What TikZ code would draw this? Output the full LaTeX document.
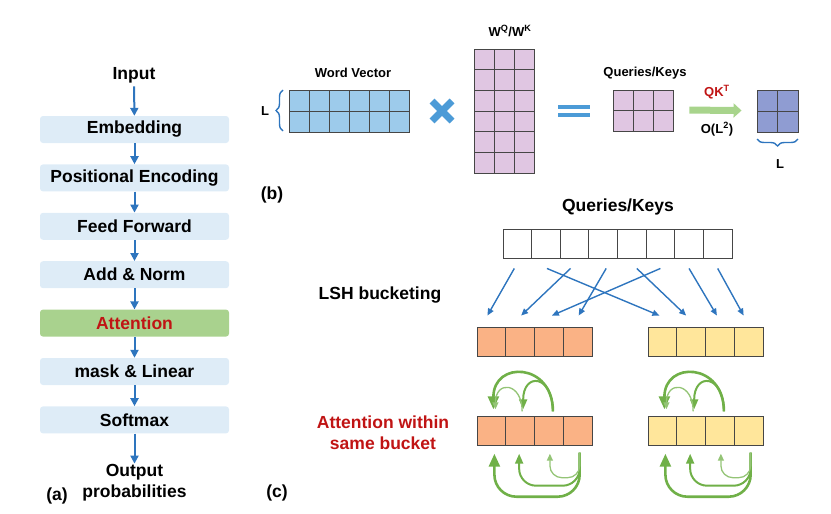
\documentclass[tikz,border=0pt]{standalone}
\usepackage{fontspec}
\setmainfont{Liberation Sans}
\usetikzlibrary{arrows.meta}
\usetikzlibrary{positioning}
\usetikzlibrary{decorations.pathreplacing}
\definecolor{flowblue}{RGB}{46,117,190}
\definecolor{boxblue}{RGB}{222,236,247}
\definecolor{attgreen}{RGB}{169,210,142}
\definecolor{hotred}{RGB}{192,20,20}
\definecolor{wordblue}{RGB}{157,203,235}
\definecolor{wpurple}{RGB}{224,198,226}
\definecolor{respurple}{RGB}{143,156,210}
\definecolor{opblue}{RGB}{76,155,215}
\definecolor{lightgreen}{RGB}{168,212,140}
\definecolor{bucketorange}{RGB}{250,178,133}
\definecolor{bucketyellow}{RGB}{255,230,155}
\definecolor{arcgreen}{RGB}{112,176,72}
\definecolor{gridgray}{RGB}{70,70,70}
\def\mainlbl{\fontsize{17.5}{21}\selectfont\bfseries}
\def\matlbl{\fontsize{13}{16}\selectfont\bfseries}

\begin{document}
\begin{tikzpicture}[x=1pt,y=-1pt,>={Triangle[length=8pt,width=8pt]},
  layer box/.style={rectangle,rounded corners=3pt,fill=boxblue,minimum width=189pt,
    minimum height=27pt,inner sep=0pt,font=\mainlbl},
  flow/.style={->,flowblue,line width=2pt},
  cell/.style={rectangle,draw=gridgray,line width=0.9pt,inner sep=0pt},
  lsh/.style={-{Triangle[length=7pt,width=6pt]},flowblue,line width=1.4pt},
  span brace/.style={flowblue,line width=1.4pt,decorate,decoration={brace,amplitude=7pt}},
  big arc/.style={-{Triangle[length=13pt,width=11pt]},arcgreen,line width=2.6pt},
  mid arc/.style={-{Triangle[length=10pt,width=8pt]},arcgreen,line width=2pt},
  thin arc/.style={-{Triangle[length=7pt,width=6pt]},arcgreen!75,line width=1.3pt}]

\useasboundingbox (0,0) rectangle (831,514);

% (a) the layer stack
\node[font=\mainlbl] (input) at (134,75) {Input};
\node[layer box] (embed) at (134.5,129.5) {Embedding};
\node[layer box,below=21pt of embed] (posenc) {Positional Encoding};
\node[layer box,below=21pt of posenc] (ffwd) {Feed Forward};
\node[layer box,below=21pt of ffwd] (addnorm) {Add \& Norm};
\node[layer box,below=21pt of addnorm,fill=attgreen,text=hotred] (attn) {Attention};
\node[layer box,below=21pt of attn] (masklin) {mask \& Linear};
\node[layer box,below=21pt of masklin] (softmax) {Softmax};
\node[font=\mainlbl,align=center,inner sep=0pt,below=30pt of softmax] (output) {Output\\probabilities};

\draw[flow] (input) -- (embed);
\foreach \a/\c in {embed/posenc,posenc/ffwd,ffwd/addnorm,addnorm/attn,attn/masklin,masklin/softmax}
  \draw[flow] (\a) -- (\c);
\draw[flow] (softmax) -- (output);

\node[font=\mainlbl] (lbla) at (57,496) {(a)};
\node[font=\mainlbl] (lblb) at (272,195) {(b)};
\node[font=\mainlbl] (lblc) at (277,493) {(c)};

% (b) projection and QK^T
\node[font=\matlbl] (wvlabel) at (353,73) {Word Vector};
\foreach \r in {0,1}
  \foreach \c in {0,...,5}
    \node[cell,fill=wordblue,minimum width=20pt,minimum height=21pt] (wv\r\c) at (299+20*\c,100.5+21*\r) {};
\draw[span brace] (283,131) -- (283,90);
\node[font=\matlbl] (wvL) at (265,111) {L};

\draw[opblue,line width=7pt] (432,101) -- (452,121) (432,121) -- (452,101);

\node[font=\matlbl] (wlabel) at (510,31) {W\textsuperscript{Q}/W\textsuperscript{K}};
\foreach \r in {0,...,5}
  \foreach \c in {0,1,2}
    \node[cell,fill=wpurple,minimum width=20pt,minimum height=20.7pt] (w\r\c) at (484+20*\c,59.35+20.7*\r) {};

\draw[opblue,line width=4pt] (558,107) -- (590,107) (558,115) -- (590,115);

\node[font=\matlbl] (qklabel) at (645,73) {Queries/Keys};
\foreach \r in {0,1}
  \foreach \c in {0,1,2}
    \node[cell,fill=wpurple,minimum width=20pt,minimum height=20.5pt] (qk\r\c) at (623+20*\c,100.25+20.5*\r) {};

\foreach \r in {0,1}
  \foreach \c in {0,1}
    \node[cell,fill=respurple,minimum width=20.5pt,minimum height=21pt] (res\r\c) at (767.25+20.5*\c,100.5+21*\r) {};

\draw[-{Triangle[length=8pt,width=14pt]},lightgreen,line width=7pt]
  ([xshift=16pt]qk12.north east) -- ([xshift=-15pt]res10.north west);
\node[font=\matlbl,text=hotred] (qkt) at (717,92) {QK\textsuperscript{T}};
\node[font=\matlbl] (cost) at (717,129) {O(L\textsuperscript{2})};

\draw[span brace] (798,139) -- (757,139);
\node[font=\matlbl] (resL) at (780,164) {L};

% (c) LSH bucketing
\node[font=\mainlbl] (qkrow) at (618,207) {Queries/Keys};
\foreach \k in {0,...,7}
  \node[cell,fill=white,minimum width=28.625pt,minimum height=29pt] (t\k) at (517.3+28.625*\k,243.5) {};
\node[font=\mainlbl] (lshlabel) at (380,295) {LSH bucketing};

\foreach \k in {0,...,3} {
  \node[cell,fill=bucketorange,minimum width=28.75pt,minimum height=29pt] (ob\k) at (491.4+28.75*\k,341.5) {};
  \node[cell,fill=bucketyellow,minimum width=28.75pt,minimum height=29pt] (yb\k) at (662.4+28.75*\k,341.5) {};
  \node[cell,fill=bucketorange,minimum width=28.75pt,minimum height=28.5pt] (oa\k) at (491.4+28.75*\k,431) {};
  \node[cell,fill=bucketyellow,minimum width=28.75pt,minimum height=28.5pt] (ya\k) at (662.4+28.75*\k,431) {};
}

\foreach \s/\sx/\e/\ex in {t0/-3/ob0/-4,t2/-4/ob1/1,t1/1/yb0/-3,t3/3/ob3/1,
                           t4/5/yb1/-5,t5/0/ob2/3,t6/0/yb2/-3,t7/0/yb3/-5}
  \draw[lsh] ([xshift=\sx pt,yshift=-10pt]\s.south) -- ([xshift=\ex pt,yshift=11pt]\e.north);

\node[font=\mainlbl,text=hotred,align=center] (attlabel) at (383,433) {Attention within\\same bucket};

\foreach \bk in {oa,ya} {
  \draw[big arc] ([xshift=4pt,yshift=5pt]\bk2.north) to[out=90,in=90,looseness=2.1] ([xshift=2pt,yshift=7pt]\bk0.north);
  \draw[mid arc] ([xshift=4pt,yshift=5pt]\bk2.north) to[out=90,in=90,looseness=3.2] ([xshift=3pt,yshift=7pt]\bk1.north);
  \draw[thin arc] ([xshift=2pt,yshift=5pt]\bk1.north) to[out=90,in=90,looseness=2.8] ([xshift=4pt,yshift=7pt]\bk0.north);
  \draw[big arc,rounded corners=22pt] ([xshift=2pt,yshift=-7pt]\bk3.south) -- ++(0,44) -| ([xshift=3pt,yshift=-8pt]\bk0.south);
  \draw[mid arc,rounded corners=17pt] ([xshift=2pt,yshift=-7pt]\bk3.south) -- ++(0,33) -| ([xshift=-1pt,yshift=-8pt]\bk1.south);
  \draw[thin arc,rounded corners=12pt] ([xshift=2pt,yshift=-7pt]\bk3.south) -- ++(0,25) -| ([xshift=1pt,yshift=-8pt]\bk2.south);
}

\end{tikzpicture}
\end{document}
